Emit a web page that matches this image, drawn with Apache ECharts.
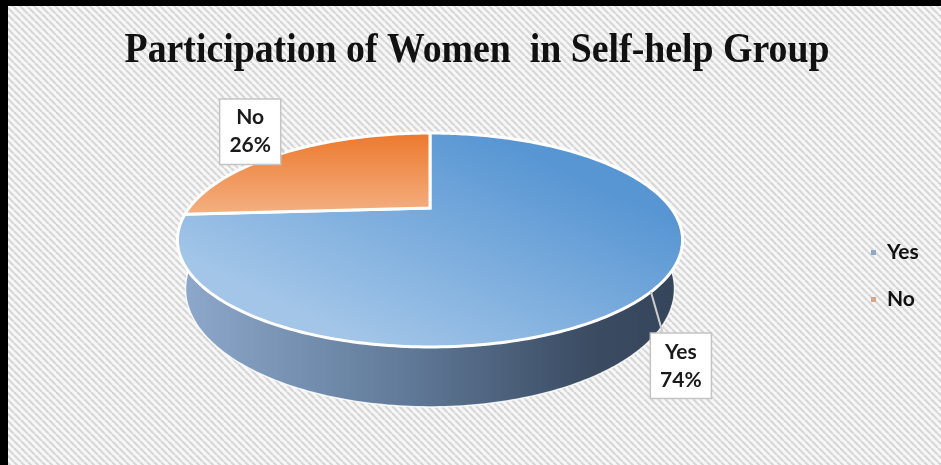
<!DOCTYPE html>
<html>
<head>
<meta charset="utf-8">
<script src="https://cdn.jsdelivr.net/npm/echarts@6/dist/echarts.min.js"></script>
<style>
	html, body { margin: 0; padding: 0; }
	#main { width: 941px; height: 465px; }
</style>
</head>
<body>
<div id="main"></div>
<script>
var categories = ['Yes', 'No'];
var shares = [74, 26];
var titleText = 'Participation of Women  in Self-help Group';

var topColors = [['#5896d3', '#a2c5e8'], ['#ec782c', '#f4b184']];
var legendColors = ['#8eaacb', '#d9a588'];

// layout of the tilted pie (perspective ellipse)
var CX = 430, CY = 208, K = 241, KS = 97.4, P = 0.299, Q = 0.03, H = 48;
var labelOffset = [[30, 74], [-34, -21]];

var total = shares.reduce(function(a, b) { return a + b; }, 0);

function sliceRange(i) {
	var before = 0;
	for (var j = 0; j < i; j++) before += shares[j];
	var start = 270 + before / total * 360;
	return [start, start + shares[i] / total * 360];
}
function proj(deg, low) {
	var a = deg * Math.PI / 180;
	var x = Math.cos(a), z = Math.sin(a);
	var w = 1 - P * z + (low ? Q : 0);
	return [CX + K * x / w, CY + (KS * z + (low ? H : 0)) / w];
}

// striped background tile
var tile = document.createElement('canvas');
tile.width = 7; tile.height = 7;
var g = tile.getContext('2d');
g.fillStyle = '#f7f7f7';
g.fillRect(0, 0, 7, 7);
g.strokeStyle = '#d7d7d7';
g.lineWidth = 2.2;
[-7, 0, 7].forEach(function(o) {
	g.beginPath(); g.moveTo(o, 0); g.lineTo(o + 7, 7); g.stroke();
});

var pieData = categories.map(function(c, i) {
	return { name: c, value: shares[i], itemStyle: { color: legendColors[i] } };
});

var chart = echarts.init(document.getElementById('main'));
var option = {
	animation: false,
	graphic: [{
		type: 'rect', z: -10, silent: true,
		shape: { x: 0, y: 0, width: 941, height: 465 },
		style: { fill: { image: tile, repeat: 'repeat' } }
	}, {
		type: 'rect', silent: true,
		shape: { x: 0, y: 0, width: 941, height: 6 },
		style: { fill: '#000' }
	}, {
		type: 'rect', silent: true,
		shape: { x: 0, y: 0, width: 8, height: 465 },
		style: { fill: '#000' }
	}, {
		type: 'text', x: 477, y: 51, scaleX: 0.9, silent: true,
		style: {
			text: titleText,
			x: 0, y: 0,
			align: 'center', verticalAlign: 'middle',
			font: 'bold 42px "Liberation Serif"',
			fill: '#111'
		}
	}],
	legend: {
		orient: 'vertical',
		left: 866,
		top: 237,
		itemWidth: 5,
		itemHeight: 5,
		itemGap: 26,
		icon: 'rect',
		selectedMode: false,
		data: categories,
		textStyle: {
			fontFamily: 'Lato',
			fontWeight: 'bold',
			fontSize: 21,
			color: '#111',
			padding: [0, 0, 0, 6]
		}
	},
	series: [{
		// only feeds the legend
		type: 'pie',
		center: [-50, -50],
		radius: 1,
		silent: true,
		label: { show: false },
		labelLine: { show: false },
		data: pieData
	}, {
		// side walls
		type: 'custom',
		coordinateSystem: 'none',
		silent: true,
		data: shares,
		renderItem: function(params, api) {
			var i = params.dataIndex;
			var r = sliceRange(i);
			var lo = Math.max(r[0], 360), hi = Math.min(r[1], 540);
			if (hi <= lo) return { type: 'group', children: [] };
			var pts = [];
			for (var d = lo; d < hi; d += 1) pts.push(proj(d, false));
			pts.push(proj(hi, false));
			for (var e = hi; e > lo; e -= 1) pts.push(proj(e, true));
			pts.push(proj(lo, true));
			var fill = i === 0 ?
				new echarts.graphic.LinearGradient(178, 0, 690, 0, [
					{ offset: 0, color: '#8ea9cc' },
					{ offset: 0.45, color: '#607998' },
					{ offset: 0.8, color: '#3b4c63' },
					{ offset: 1, color: '#34445a' }
				], true) : '#b8652c';
			return {
				type: 'polygon',
				shape: { points: pts },
				style: { fill: fill, stroke: 'rgba(255,255,255,0.85)', lineWidth: 1.5 }
			};
		}
	}, {
		// top faces and labels
		type: 'custom',
		coordinateSystem: 'none',
		silent: true,
		data: shares,
		renderItem: function(params, api) {
			var i = params.dataIndex;
			var r = sliceRange(i);
			var pts = [[CX, CY]];
			for (var d = r[0]; d < r[1]; d += 1) pts.push(proj(d, false));
			pts.push(proj(r[1], false));
			var mid = proj((r[0] + r[1]) / 2, false);
			var bx = mid[0] + labelOffset[i][0], by = mid[1] + labelOffset[i][1];
			var pct = Math.round(api.value(0) / total * 100);
			var grad = i === 0 ? [0.6, 0, 0.4, 1] : [0.5, 0, 0.5, 1];
			return {
				type: 'group',
				children: [{
					type: 'polygon',
					shape: { points: pts },
					style: {
						fill: new echarts.graphic.LinearGradient(grad[0], grad[1], grad[2], grad[3], [
							{ offset: 0, color: topColors[i][0] },
							{ offset: 1, color: topColors[i][1] }
						]),
						stroke: '#fff',
						lineWidth: 3
					}
				}, {
					type: 'line',
					shape: { x1: mid[0], y1: mid[1], x2: bx - 18, y2: by - 32 },
					style: { stroke: '#cfcfcf', lineWidth: 2 }
				}, {
					type: 'text',
					x: bx, y: by,
					style: {
						text: categories[i] + '\n' + pct + '%',
						align: 'center', verticalAlign: 'middle',
						font: 'bold 21px Lato',
						fill: '#1a1a1a',
						lineHeight: 28,
						backgroundColor: '#fff',
						borderColor: '#c4c4c4',
						borderWidth: 1.5,
						padding: [4, 9, 4, 9]
					}
				}]
			};
		}
	}]
};
chart.setOption(option);
</script>
</body>
</html>
